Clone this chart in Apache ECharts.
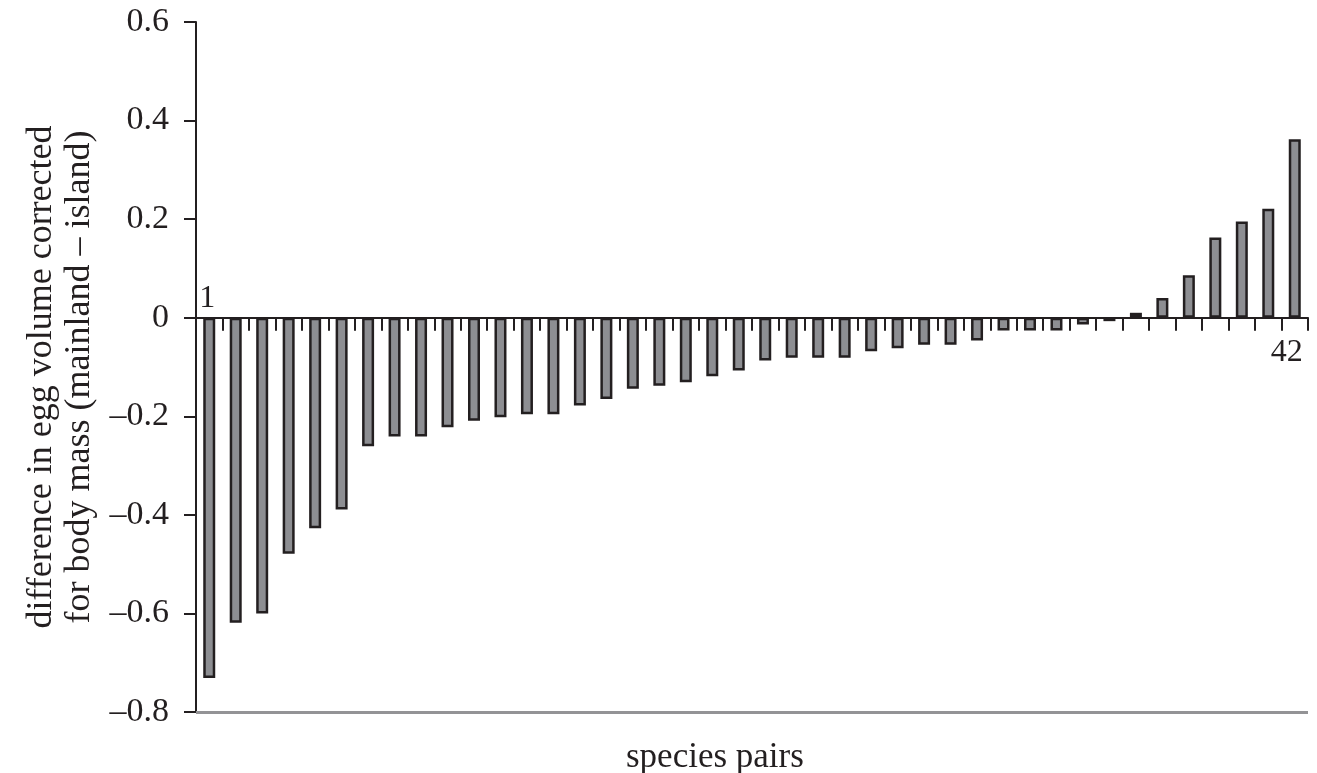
<!DOCTYPE html>
<html>
<head>
<meta charset="utf-8">
<script src="https://cdn.jsdelivr.net/npm/echarts@6/dist/echarts.min.js"></script>
<style>
html,body{margin:0;padding:0;background:#fff;}
#chart{width:1317px;height:773px;}
</style>
</head>
<body>
<div id="chart"></div>
<script>
// categories: species pairs 1..42
const categories = [];
for (let i = 1; i <= 42; i++) categories.push(String(i));

const values = [-0.731, -0.619, -0.600, -0.479, -0.427, -0.389, -0.261, -0.241, -0.241, -0.222,
  -0.209, -0.202, -0.196, -0.196, -0.178, -0.165, -0.144, -0.138, -0.131, -0.119,
  -0.107, -0.087, -0.081, -0.081, -0.081, -0.068, -0.062, -0.055, -0.055, -0.046,
  -0.026, -0.026, -0.026, -0.014, -0.007, 0.010, 0.040, 0.086, 0.163, 0.195,
  0.221, 0.362];

const yTicks = [-0.8, -0.6, -0.4, -0.2, 0, 0.2, 0.4, 0.6];
const yTitle = 'difference in egg volume corrected\nfor body mass (mainland – island)';
const xTitle = 'species pairs';

const FONT = '"Liberation Serif", "DejaVu Serif", serif';
const INK = '#231f20';

const lastIdx = categories.length - 1;
const seriesData = values.map(function (v, i) {
  if (i === 0) {
    return { value: v, label: { show: true, position: 'insideTop', offset: [-2, -40], formatter: categories[i] } };
  }
  if (i === lastIdx) {
    return { value: v, label: { show: true, position: 'insideBottom', offset: [-8, 56], formatter: categories[i] } };
  }
  return v;
});

const chart = echarts.init(document.getElementById('chart'));
chart.setOption({
  animation: false,
  backgroundColor: '#fff',
  grid: { left: 196, right: 9, top: 22, bottom: 61, outerBoundsMode: 'none', containLabel: false },
  title: {
    text: xTitle, left: 621, top: 735,
    textStyle: { fontFamily: FONT, fontSize: 35, fontWeight: 'normal', color: INK }
  },
  xAxis: {
    type: 'category',
    data: categories,
    position: 'bottom',
    axisLine: { onZero: true, lineStyle: { color: INK, width: 2 } },
    axisTick: { show: true, interval: 0, length: 13, lineStyle: { color: INK, width: 2 } },
    axisLabel: { show: false },
    splitLine: { show: false }
  },
  yAxis: {
    type: 'value',
    min: yTicks[0], max: yTicks[yTicks.length - 1], interval: 0.2,
    name: yTitle,
    nameLocation: 'middle',
    nameRotate: 90,
    nameGap: 94,
    nameTextStyle: { fontFamily: FONT, fontSize: 36, color: INK, lineHeight: 38, padding: [0, 20, 0, 0] },
    axisLine: { show: true, lineStyle: { color: INK, width: 2 } },
    axisTick: { show: true, length: 12, lineStyle: { color: INK, width: 2 } },
    axisLabel: {
      margin: 27, fontFamily: FONT, fontSize: 34, color: INK,
      formatter: function (v) {
        const r = Math.round(v * 10) / 10;
        if (r === 0) return '0';
        const s = Math.abs(r).toFixed(1);
        return r < 0 ? '–' + s : s;
      }
    },
    splitLine: { show: false }
  },
  series: [{
    type: 'bar',
    data: seriesData,
    barWidth: 12,
    itemStyle: { color: '#8d8e92', borderColor: INK, borderWidth: 2.5 },
    label: { show: false, fontFamily: FONT, fontSize: 32, color: INK },
    markLine: {
      silent: true,
      symbol: ['none', 'none'],
      label: { show: false },
      lineStyle: { color: '#939396', width: 3, type: 'solid' },
      data: [{ yAxis: yTicks[0] }]
    }
  }]
});
</script>
</body>
</html>
